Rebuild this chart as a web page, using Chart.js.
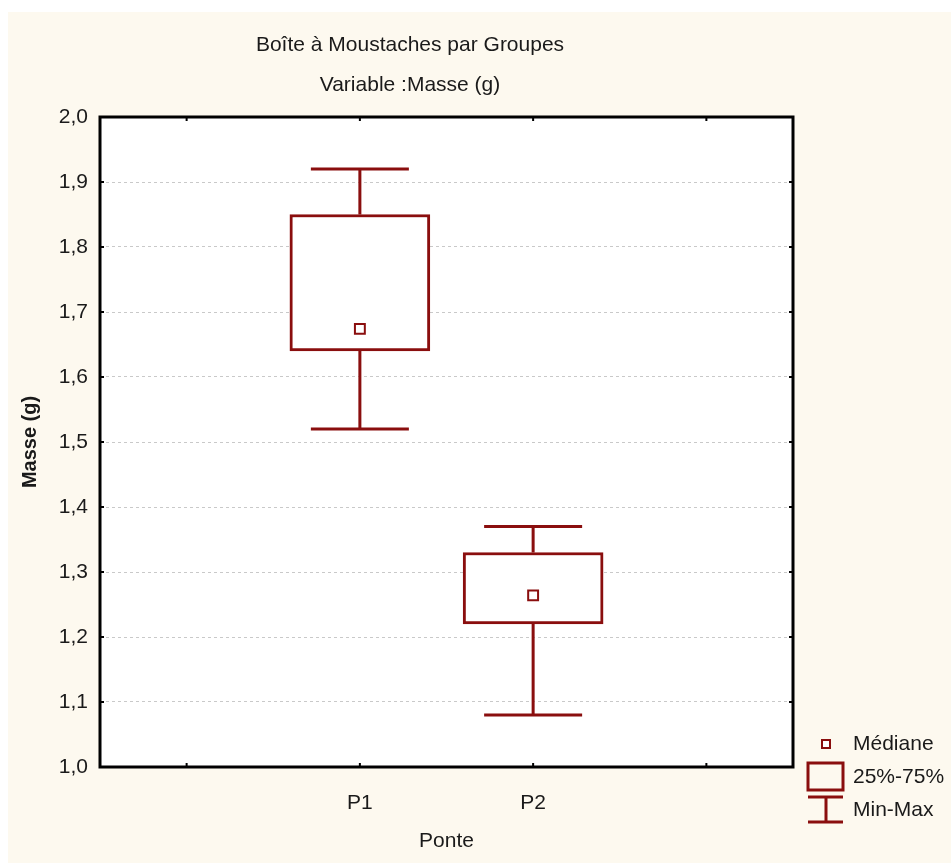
<!DOCTYPE html>
<html>
<head>
<meta charset="utf-8">
<script src="https://cdn.jsdelivr.net/npm/chart.js@4.4.0/dist/chart.umd.min.js"></script>
<style>
  html, body { margin: 0; padding: 0; background: #fff; }
  #wrap { width: 951px; height: 863px; }
</style>
</head>
<body>
<div id="wrap"><canvas id="ctx"></canvas></div>
<script>
// valeurs
var groupes = ['P1', 'P2'];
var tickLabels = ['', 'P1', 'P2', ''];
var minimum = [1.52, 1.08];
var q25 = [1.64, 1.22];
var mediane = [1.674, 1.264];
var q75 = [1.85, 1.33];
var maximum = [1.92, 1.37];

var rouge = '#8a0e0e';
var police = "'Liberation Sans', Arial, sans-serif";

function parGroupe(f) {
    return tickLabels.map(function (l) {
        var i = groupes.indexOf(l);
        return i < 0 ? null : f(i);
    });
}

var boxPlugin = {
    id: 'boxExtras',
    beforeDraw: function (chart) {
        var c = chart.ctx, a = chart.chartArea;
        c.save();
        c.fillStyle = '#fdf9ef';
        c.fillRect(8, 12, chart.width - 8, chart.height - 12);
        c.fillStyle = '#ffffff';
        c.fillRect(a.left, a.top, a.right - a.left, a.bottom - a.top);
        c.restore();
    },
    beforeDatasetsDraw: function (chart) {
        var c = chart.ctx, x = chart.scales.x, y = chart.scales.y;
        var bars = chart.getDatasetMeta(0).data;
        c.save();
        c.strokeStyle = rouge;
        c.lineWidth = 3;
        groupes.forEach(function (g, i) {
            var idx = tickLabels.indexOf(g);
            var px = x.getPixelForValue(idx);
            var half = bars[idx].width * 0.35;
            var yMax = y.getPixelForValue(maximum[i]);
            var yMin = y.getPixelForValue(minimum[i]);
            c.beginPath();
            c.moveTo(px, yMax); c.lineTo(px, y.getPixelForValue(q75[i]));
            c.moveTo(px, y.getPixelForValue(q25[i])); c.lineTo(px, yMin);
            c.moveTo(px - half, yMax); c.lineTo(px + half, yMax);
            c.moveTo(px - half, yMin); c.lineTo(px + half, yMin);
            c.stroke();
        });
        c.restore();
    },
    afterDraw: function (chart) {
        var c = chart.ctx, a = chart.chartArea, x = chart.scales.x, y = chart.scales.y;
        c.save();
        // cadre
        c.strokeStyle = '#000';
        c.lineWidth = 3;
        c.strokeRect(a.left, a.top, a.right - a.left, a.bottom - a.top);
        // graduations vers l'intérieur
        c.lineWidth = 2;
        c.beginPath();
        y.ticks.forEach(function (t) {
            var py = y.getPixelForValue(t.value);
            c.moveTo(a.left, py); c.lineTo(a.left + 4, py);
            c.moveTo(a.right, py); c.lineTo(a.right - 4, py);
        });
        tickLabels.forEach(function (l, i) {
            var px = x.getPixelForValue(i);
            c.moveTo(px, a.bottom); c.lineTo(px, a.bottom - 4);
            c.moveTo(px, a.top); c.lineTo(px, a.top + 4);
        });
        c.stroke();

        // titre
        c.fillStyle = '#1a1a1a';
        c.textAlign = 'center';
        c.textBaseline = 'middle';
        c.font = '21px ' + police;
        c.fillText('Boîte à Moustaches par Groupes', 410, 45);
        c.fillText('Variable :Masse (g)', 410, 85);

        // légende
        var lx = a.right + 15, ly = a.bottom - 23;
        c.strokeStyle = rouge;
        c.lineWidth = 2;
        c.fillStyle = '#fff';
        c.fillRect(lx + 13, ly - 5, 10, 10);
        c.strokeRect(lx + 14, ly - 4, 8, 8);
        c.lineWidth = 3;
        c.strokeRect(lx, ly + 19, 35, 27);
        c.beginPath();
        c.moveTo(lx, ly + 53); c.lineTo(lx + 35, ly + 53);
        c.moveTo(lx + 18, ly + 53); c.lineTo(lx + 18, ly + 78);
        c.moveTo(lx, ly + 78); c.lineTo(lx + 35, ly + 78);
        c.stroke();
        c.fillStyle = '#1a1a1a';
        c.textAlign = 'left';
        c.font = '21px ' + police;
        c.fillText('Médiane', lx + 45, ly);
        c.fillText('25%-75%', lx + 45, ly + 33);
        c.fillText('Min-Max', lx + 45, ly + 66);
        c.restore();
    }
};

var chart = new Chart(document.getElementById('ctx'), {
    type: 'bar',
    data: {
        labels: tickLabels,
        datasets: [
            {
                type: 'bar',
                data: parGroupe(function (i) { return [q25[i], q75[i]]; }),
                backgroundColor: '#ffffff',
                borderColor: rouge,
                borderWidth: 3,
                borderSkipped: false,
                barThickness: 140,
                order: 2
            },
            {
                type: 'line',
                data: parGroupe(function (i) { return mediane[i]; }),
                showLine: false,
                pointStyle: 'rect',
                pointRadius: 7,
                pointBorderWidth: 2,
                pointBackgroundColor: '#ffffff',
                pointBorderColor: rouge,
                order: 1
            }
        ]
    },
    options: {
        responsive: true,
        maintainAspectRatio: false,
        animation: false,
        layout: { padding: { top: 117, right: 158, left: 0, bottom: 0 } },
        plugins: {
            legend: { display: false },
            title: { display: false },
            tooltip: { enabled: false }
        },
        scales: {
            x: {
                offset: true,
                grid: { display: false },
                border: { display: false },
                ticks: { color: '#1a1a1a', font: { family: police, size: 21 }, padding: 16, maxRotation: 0 },
                title: { display: true, text: 'Ponte', color: '#1a1a1a', font: { family: police, size: 21 }, padding: { top: 0, bottom: 9 } },
                afterFit: function (s) { s.height = 96; }
            },
            y: {
                min: 1,
                max: 2,
                grid: { color: '#c9c9c9', lineWidth: 1, drawTicks: false },
                border: { display: false, dash: [3, 3] },
                ticks: {
                    stepSize: 0.1,
                    padding: 12,
                    color: '#1a1a1a',
                    font: { family: police, size: 21 },
                    callback: function (v) { return v.toFixed(1).replace('.', ','); }
                },
                title: { display: true, text: 'Masse (g)', color: '#1a1a1a', font: { family: police, size: 20, weight: 'bold' }, padding: { top: 18, bottom: 0 } },
                afterFit: function (s) { s.width = 100; }
            }
        }
    },
    plugins: [boxPlugin]
});
</script>
</body>
</html>
